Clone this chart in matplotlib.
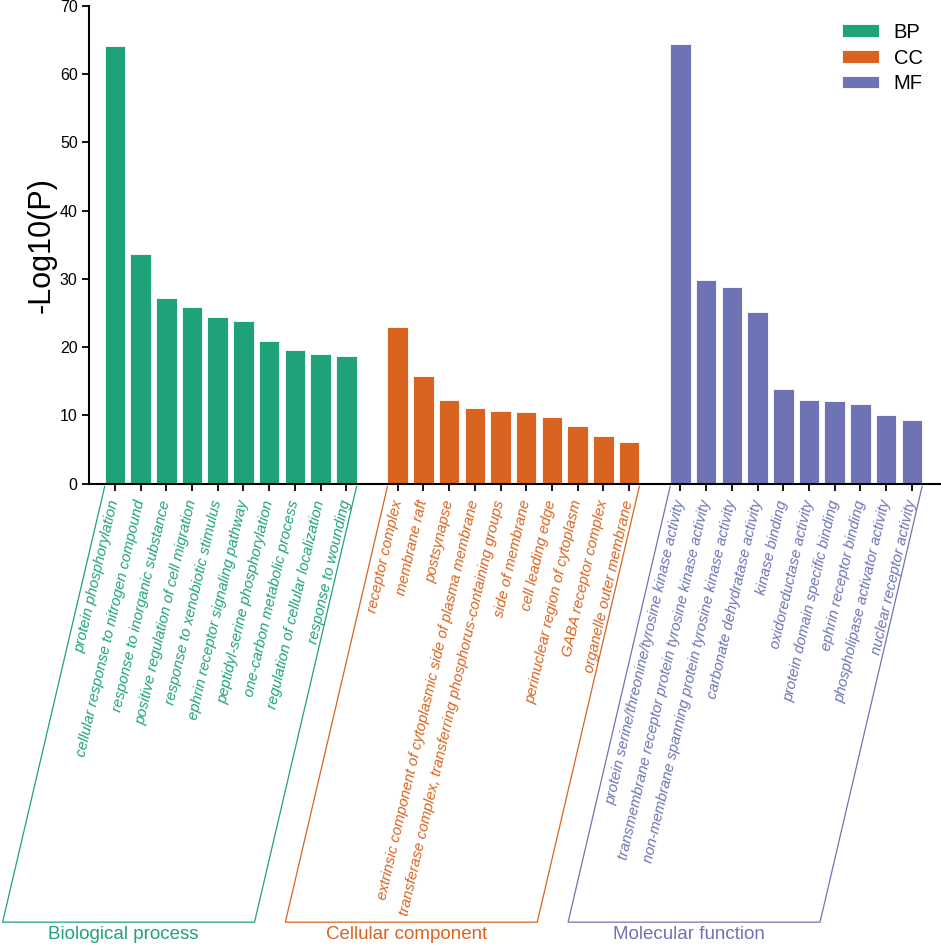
import matplotlib
matplotlib.use('Agg')
import matplotlib.pyplot as plt
from matplotlib.lines import Line2D

plt.rcParams['font.family'] = ['Liberation Sans', 'DejaVu Sans']

# GO enrichment terms and -log10(P) values
bp_terms = ['protein phosphorylation', 'cellular response to nitrogen compound',
            'response to inorganic substance', 'positive regulation of cell migration',
            'response to xenobiotic stimulus', 'ephrin receptor signaling pathway',
            'peptidyl-serine phosphorylation', 'one-carbon metabolic process',
            'regulation of cellular localization', 'response to wounding']
bp_vals = [64.1, 33.6, 27.2, 25.9, 24.4, 23.8, 20.9, 19.5, 19.0, 18.7]

cc_terms = ['receptor complex', 'membrane raft', 'postsynapse',
            'extrinsic component of cytoplasmic side of plasma membrane',
            'transferase complex, transferring phosphorus-containing groups',
            'side of membrane', 'cell leading edge', 'perinuclear region of cytoplasm',
            'GABA receptor complex', 'organelle outer membrane']
cc_vals = [23.0, 15.8, 12.3, 11.0, 10.7, 10.5, 9.7, 8.4, 7.0, 6.1]

mf_terms = ['protein serine/threonine/tyrosine kinase activity',
            'transmembrane receptor protein tyrosine kinase activity',
            'non-membrane spanning protein tyrosine kinase activity',
            'carbonate dehydratase activity', 'kinase binding', 'oxidoreductase activity',
            'protein domain specific binding', 'ephrin receptor binding',
            'phospholipase activator activity', 'nuclear receptor activity']
mf_vals = [64.4, 29.9, 28.8, 25.2, 13.9, 12.3, 12.1, 11.6, 10.0, 9.3]

groups = [('BP', 'Biological process', bp_terms, bp_vals, '#1fa27a'),
          ('CC', 'Cellular component', cc_terms, cc_vals, '#d9641f'),
          ('MF', 'Molecular function', mf_terms, mf_vals, '#6e74b3')]

fig = plt.figure(figsize=(9.41, 9.46), dpi=100)
ax = fig.add_axes([0.0951, 0.4889, 0.9039, 0.5048])

ticks, labels, label_colors = [], [], []
box_bottom = -64.3   # data units, below the axis
shift = 3.97         # slant of the label boxes, in bar slots
start = 0
for short, long_name, terms, vals, col in groups:
    xs = list(range(start, start + len(vals)))
    ax.bar(xs, vals, width=0.8, color=col, edgecolor='white', linewidth=0.6, label=short)
    ticks += xs
    labels += terms
    label_colors += [col] * len(terms)
    # slanted box around the labels
    x0, x1 = xs[0] - 0.4, xs[-1] + 0.4
    y0 = -0.45
    ax.add_line(Line2D([x0, x0 - shift, x1 - shift, x1], [y0, box_bottom, box_bottom, y0],
                       color=col, lw=0.9, clip_on=False))
    ax.text((x0 + x1) / 2 - shift - 0.2, -66.1, long_name, color=col, fontsize=13.5,
            ha='center', va='center')
    start += len(vals) + 1

ax.set_xlim(-0.99, 32.1)
ax.set_ylim(0, 70)
ax.set_yticks(range(0, 71, 10))
ax.set_xticks(ticks)
ax.set_xticklabels(labels, rotation=77, ha='right', va='center', rotation_mode='anchor',
                   fontsize=10.8, fontstyle='italic')
for lab, c in zip(ax.get_xticklabels(), label_colors):
    lab.set_color(c)
ax.tick_params(axis='x', length=5, width=1.3, pad=7)
ax.tick_params(axis='y', length=5, width=1.3, labelsize=11.5)
for s in ['top', 'right']:
    ax.spines[s].set_visible(False)
for s in ['left', 'bottom']:
    ax.spines[s].set_linewidth(1.5)

ax.set_ylabel('-Log10(P)', fontsize=22)
ax.yaxis.set_label_coords(-0.039, 0.5)

ax.legend(loc='upper right', bbox_to_anchor=(1.0, 0.995), bbox_transform=fig.transFigure,
          frameon=False, fontsize=14.5, handlelength=1.85, handleheight=0.6,
          handletextpad=0.75, labelspacing=0.33)

fig.savefig('out.png', dpi=100)
